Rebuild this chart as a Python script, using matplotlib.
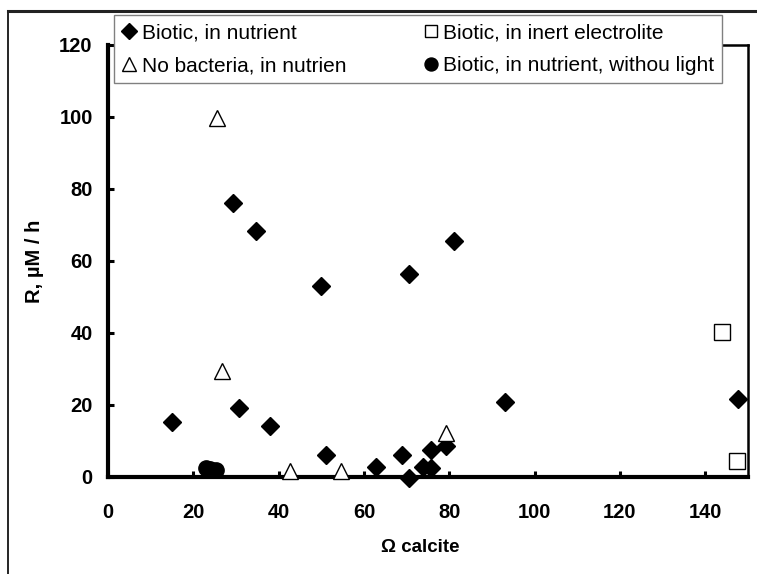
import matplotlib
matplotlib.use("Agg")
import matplotlib.pyplot as plt
from matplotlib.lines import Line2D

plt.rcParams['font.family'] = ['Liberation Sans', 'DejaVu Sans']

# Biotic, in nutrient (filled diamonds)
nutr_x = [14.9, 29.3, 34.6, 50.0, 30.8, 37.9, 51.2, 70.5, 93.1, 62.9,
          69.0, 70.5, 73.8, 75.8, 75.8, 79.2, 81.0, 147.6]
nutr_y = [15.4, 76.1, 68.2, 53.1, 19.1, 14.2, 6.1, 56.3, 20.9, 2.9,
          6.1, -0.4, 2.9, 2.4, 7.5, 8.6, 65.6, 21.6]

# Biotic, in inert electrolite (open squares)
inert_x = [144.0, 147.4]
inert_y = [40.4, 4.4]

# No bacteria, in nutrien (open triangles)
nobac_x = [25.6, 26.8, 42.6, 54.6, 79.2]
nobac_y = [99.6, 29.5, 1.7, 1.7, 12.1]

# Biotic, in nutrient, withou light (filled circles)
dark_x = [23.0, 24.0, 25.2]
dark_y = [2.6, 2.2, 2.0]

W, H = 757, 574
fig = plt.figure(figsize=(W / 100, H / 100), dpi=100)
ax = fig.add_axes([108 / W, 1 - 477 / H, 640 / W, 432 / H])

h1, = ax.plot(nutr_x, nutr_y, 'D', color='black', ms=9, ls='none', clip_on=False, zorder=4)
h3, = ax.plot(nobac_x, nobac_y, '^', mfc='white', mec='black', mew=1.0, ms=12, ls='none', clip_on=False, zorder=4)
h2, = ax.plot(inert_x, inert_y, 's', mfc='white', mec='black', mew=1.0, ms=11, ls='none', clip_on=False, zorder=4)
h4, = ax.plot(dark_x, dark_y, 'o', color='black', ms=11, ls='none', clip_on=False, zorder=4)

ax.set_xlim(0, 150)
ax.set_ylim(0, 120)
ax.set_xticks(range(0, 141, 20))
ax.set_yticks(range(0, 121, 20))

for side in ['left', 'bottom']:
    ax.spines[side].set_linewidth(3)
for side in ['right', 'top']:
    ax.spines[side].set_linewidth(1.8)

ax.tick_params(axis='both', direction='in', length=4, width=2.2, labelsize=14.5)
ax.tick_params(axis='x', pad=19)
ax.tick_params(axis='y', pad=11)
for lab in ax.get_xticklabels() + ax.get_yticklabels():
    lab.set_fontweight('bold')

ax.set_xlabel('Ω calcite', fontsize=13.5, fontweight='bold', va='center', ha='center')
ax.xaxis.set_label_coords((420 - 108) / 640, -(547 - 477) / 432)
ax.set_ylabel('R, µM / h', fontsize=14.5, fontweight='bold', va='center', ha='center')
ax.yaxis.set_label_coords((35 - 108) / 640, 0.5)

# legend fills column-wise: first column = diamonds, triangles
leg = ax.legend([h1, h3, h2, h4],
                ['Biotic, in nutrient', 'No bacteria, in nutrien',
                 'Biotic, in inert electrolite', 'Biotic, in nutrient, withou light'],
                ncol=2, loc='lower left', mode='expand',
                bbox_to_anchor=(114 / W, 1 - 83 / H, 608 / W, 71 / H),
                bbox_transform=fig.transFigure, borderaxespad=0,
                fontsize=15, handlelength=0.7, handletextpad=0.25,
                borderpad=0.37, labelspacing=0.68, markerscale=0.85,
                fancybox=False, framealpha=1, edgecolor='#808080')
leg.get_frame().set_linewidth(1.0)
leg.set_zorder(10)

# outer chart frame (left and top edges visible)
fig.add_artist(Line2D([8 / W, 8 / W], [0, 1 - 11 / H],
                      transform=fig.transFigure, color='black', lw=1.2))
fig.add_artist(Line2D([8 / W, 1], [1 - 11 / H, 1 - 11 / H],
                      transform=fig.transFigure, color='#222222', lw=2.2))

fig.savefig('out.png', dpi=100)
